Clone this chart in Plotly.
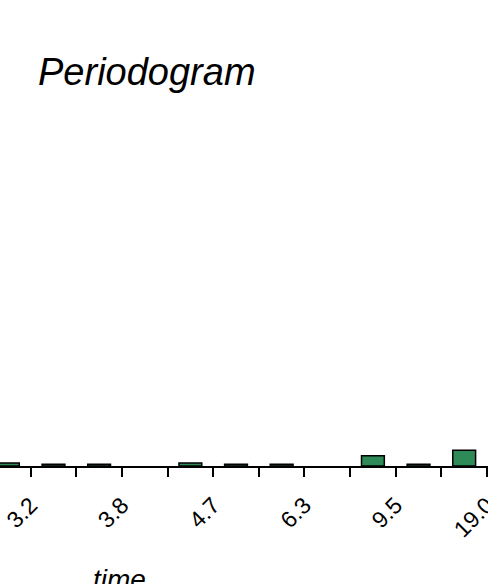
import plotly.graph_objects as go

# Data (harmonic index k; periods labelled as 19/k)
bar_k = [6.25, 5.75, 5.25, 4.75, 4.25, 3.75, 3.25, 2.75, 2.25, 1.75, 1.25]
power = [0.17, 0.10, 0.10, 0.0, 0.17, 0.10, 0.10, 0.0, 0.58, 0.10, 0.89]
tick_k = [1, 1.5, 2, 2.5, 3, 3.5, 4, 4.5, 5, 5.5, 6]
tick_labels = ["19.0", "", "9.5", "", "6.3", "", "4.7", "", "3.8", "", "3.2"]

W, H = 488, 584
T, B = 110, 118
plot_h = H - T - B

# zero-power bins draw nothing
xs = [k for k, p in zip(bar_k, power) if p > 0]
ys = [p for p in power if p > 0]

fig = go.Figure(
    go.Bar(
        x=xs,
        y=ys,
        width=0.25,
        marker=dict(color="#2E8B57", line=dict(color="black", width=1.5)),
        hoverinfo="skip",
    )
)

fig.update_layout(
    width=W,
    height=H,
    margin=dict(l=0, r=0, t=T, b=B, autoexpand=False),
    plot_bgcolor="white",
    paper_bgcolor="white",
    showlegend=False,
    font=dict(family="Liberation Sans, Arial, sans-serif", color="black"),
    title=dict(
        text="Periodogram",
        x=38 / W,
        xanchor="left",
        xref="container",
        y=1 - 72 / H,
        yanchor="middle",
        yref="container",
        font=dict(size=38, style="italic", color="black"),
    ),
)

fig.update_xaxes(
    range=[6.336, 0.989],
    tickvals=tick_k,
    ticktext=tick_labels,
    tickangle=-45,
    ticks="outside",
    ticklen=9,
    tickwidth=1.5,
    tickcolor="black",
    showline=True,
    linecolor="black",
    linewidth=1.5,
    showgrid=False,
    zeroline=False,
    automargin=False,
    ticklabelstandoff=6,
    ticklabeloverflow="allow",
    tickfont=dict(size=23, color="black"),
)
fig.update_yaxes(range=[0, 20], visible=False, showgrid=False, zeroline=False, automargin=False)

fig.add_annotation(
    text="time",
    xref="paper",
    yref="paper",
    x=119 / W,
    y=(466 - 579) / plot_h,
    xanchor="center",
    yanchor="middle",
    showarrow=False,
    font=dict(size=28, style="italic", color="black"),
)

fig.write_html(
    "out.html",
    config={"displayModeBar": False},
    post_script="document.body.style.margin='0';document.body.style.overflow='hidden';",
)
